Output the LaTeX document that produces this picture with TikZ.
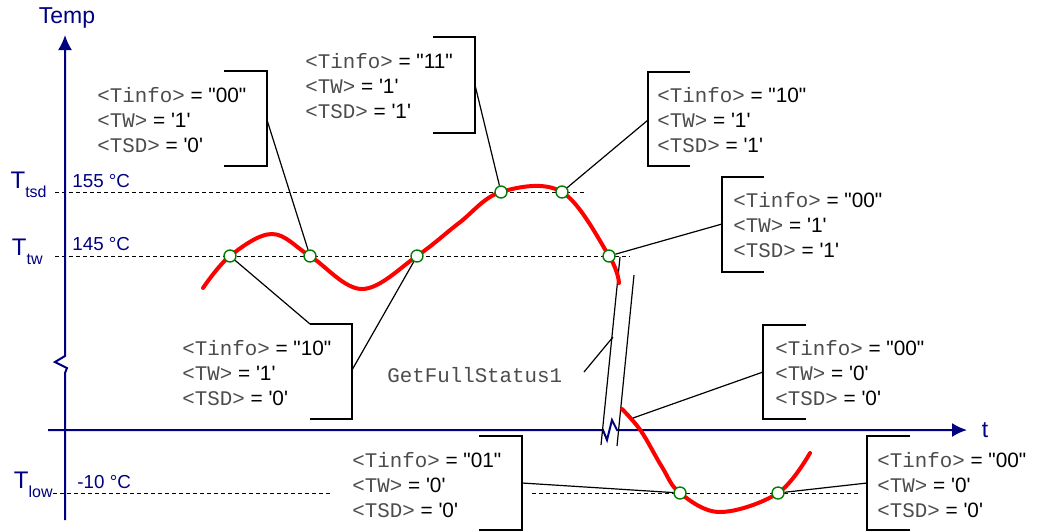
\documentclass[tikz,border=0pt]{standalone}
\usepackage{fontspec}
\setmainfont{Liberation Sans}
\setmonofont{Liberation Mono}
\usetikzlibrary{arrows.meta}

\definecolor{navy}{RGB}{0,0,128}
\definecolor{dkgreen}{RGB}{0,128,0}

\newcommand{\tg}[1]{\textcolor{black!70}{\ttfamily<#1>}}
\newcommand{\stat}[3]{\tg{Tinfo} = \textquotedbl#1\textquotedbl\\ \tg{TW} = \textquotesingle#2\textquotesingle\\ \tg{TSD} = \textquotesingle#3\textquotesingle}
\newcommand{\tlab}[1]{T\raisebox{-4.5pt}{\fontsize{8}{9}\selectfont #1}}

\begin{document}
\begin{tikzpicture}[x=0.5pt, y=-0.5pt, >={Latex[length=7.5pt,width=7pt]},
  ax/.style={navy, line width=1pt},
  lev/.style={black, line width=0.5pt, dash pattern=on 2pt off 1.5pt},
  curve/.style={red, line width=2pt, line cap=round},
  pt/.style={circle, draw=dkgreen, fill=white, line width=0.7pt, minimum size=6pt, inner sep=0pt},
  leader/.style={black, line width=0.6pt},
  brk/.style={black, line width=0.9pt},
  stat/.style={align=left, anchor=west, inner sep=0pt, font=\fontsize{10.4}{12.5}\selectfont},
  tl/.style={navy, anchor=base east, inner sep=0pt, font=\fontsize{12}{13}\selectfont},
  vl/.style={navy, anchor=base west, inner sep=0pt, font=\fontsize{9.4}{10}\selectfont}]

\useasboundingbox (0,0) rectangle (1037,531);

% temperature levels
\draw[lev] (55,192) -- (585,192);
\draw[lev] (55,256) -- (630,256);
\draw[lev] (53,493) -- (330,493);
\draw[lev] (532,493) -- (860,493);

% axes with breaks
\draw[ax, ->] (65,520) -- (65,373) -- (67,368) -- (55,362) -- (65,356) -- (65,35);
\draw[ax, ->] (48,430) -- (603,430) -- (607,440) -- (612,420) -- (617,430) -- (967,430);
\node[navy, font=\fontsize{11.5}{12}\selectfont] (temp) at (67,18) {Temp};
\node[navy, font=\fontsize{11.5}{12}\selectfont] (t) at (985,430) {t};

\node[tl] (ttsd) at (47,188) {\tlab{tsd}};
\node[tl] (ttw) at (43,255) {\tlab{tw}};
\node[tl] (tlow) at (53,488) {\tlab{low}};
\node[vl] (v155) at (72,187) {155 °C};
\node[vl] (v145) at (72,250) {145 °C};
\node[vl] (v10) at (77,488) {-10 °C};

% time axis break
\draw[leader] (620,257) -- (601,445);
\draw[leader] (634,275) -- (617,446);

% temperature curve
\draw[curve] plot[smooth, tension=0.6] coordinates {(203,288) (230,256) (272,234) (310,256) (362,289)
  (417,256) (459,223) (501,192) (562,192) (609,256) (619,283)};
\draw[curve] plot[smooth, tension=0.6] coordinates {(622,409) (641,431) (662,467) (680,493) (720,512)
  (778,493) (810,453)};

\node[pt] (c1) at (230,256) {};
\node[pt] (c2) at (310,256) {};
\node[pt] (c3) at (417,256) {};
\node[pt] (c4) at (501,192) {};
\node[pt] (c5) at (562,192) {};
\node[pt] (c6) at (609,256) {};
\node[pt] (c7) at (680,493) {};
\node[pt] (c8) at (778,493) {};

% status callouts
\node[stat] (sa) at (97,120) {\stat{00}{1}{0}};
\draw[brk] (224,71) -| (267,166) -- (224,166);
\coordinate (la) at (267,120);
\draw[leader] (la) -- (c2);

\node[stat] (sb) at (305,86) {\stat{11}{1}{1}};
\draw[brk] (433,37) -| (475,133) -- (433,133);
\coordinate (lb) at (475,85);
\draw[leader] (lb) -- (c4);

\node[stat] (sc) at (657,120) {\stat{10}{1}{1}};
\draw[brk] (690,72) -| (648,166) -- (690,166);
\coordinate (lc) at (648,120);
\draw[leader] (lc) -- (c5);

\node[stat] (sd) at (733,225) {\stat{00}{1}{1}};
\draw[brk] (764,177) -| (722,272) -- (764,272);
\coordinate (ld) at (722,224);
\draw[leader] (ld) -- (c6);

\node[stat] (se) at (775,373) {\stat{00}{0}{0}};
\draw[brk] (806,325) -| (763,419) -- (806,419);
\coordinate (le) at (763,372);
\coordinate (ee) at (633,418);
\draw[leader] (le) -- (ee);

\node[stat] (sf) at (182,373) {\stat{10}{1}{0}};
\draw[brk] (310,324) -| (352,419) -- (310,419);
\coordinate (lf1) at (310,324);
\coordinate (lf2) at (352,370);
\draw[leader] (lf1) -- (c1);
\draw[leader] (lf2) -- (c3);

\node[stat] (sg) at (352,485) {\stat{01}{0}{0}};
\draw[brk] (479,436) -| (522,530) -- (479,530);
\coordinate (lg) at (522,483);
\draw[leader] (lg) -- (c7);

\node[stat] (sh) at (877,485) {\stat{00}{0}{0}};
\draw[brk] (910,436) -| (867,530) -- (910,530);
\coordinate (lh) at (867,483);
\draw[leader] (lh) -- (c8);

% command
\node[anchor=west, inner sep=0pt, text=black!70, font=\ttfamily\fontsize{10.4}{12.5}\selectfont] (gfs) at (387,375) {GetFullStatus1};
\coordinate (gs) at (584,372);
\coordinate (gq) at (613,337);
\draw[leader] (gs) -- (gq);

\end{tikzpicture}
\end{document}
